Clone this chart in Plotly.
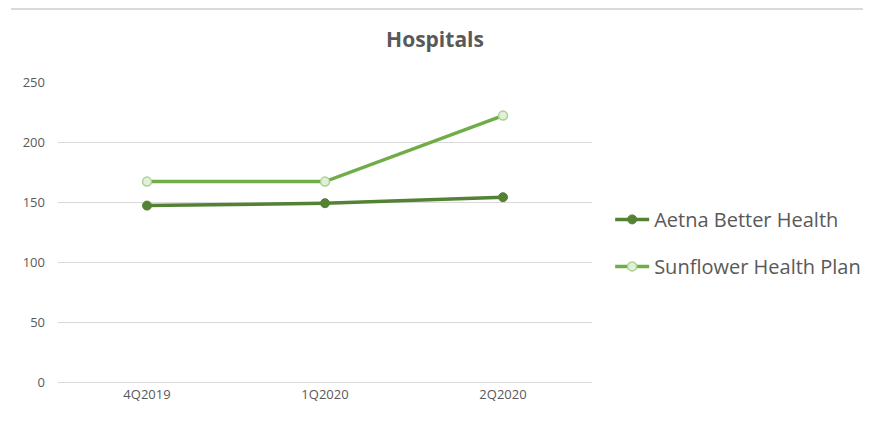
import plotly.graph_objects as go

quarters = ["4Q2019", "1Q2020", "2Q2020"]
aetna = [147, 149, 154]
sunflower = [167, 167, 222]
y_ticks = [0, 50, 100, 150, 200, 250]

FONT = "Open Sans"
TXT = "#595959"

W, H = 863, 417  # page body has an 8px margin

fig = go.Figure()
fig.add_trace(go.Scatter(
    x=quarters, y=aetna, name="Aetna Better Health", mode="lines+markers",
    legendgroup="a",
    line=dict(color="#548235", width=3.5),
    marker=dict(size=9, color="#548235", line=dict(color="#548235", width=1)),
))
fig.add_trace(go.Scatter(
    x=quarters, y=sunflower, name="Sunflower Health Plan", mode="lines+markers",
    legendgroup="s",
    line=dict(color="#70AD47", width=3.5),
    marker=dict(size=9, color="#E2EFDA", line=dict(color="#A9D18E", width=1.5)),
))

fig.update_layout(
    width=W, height=H,
    margin=dict(l=50, r=279, t=74, b=43, autoexpand=False),
    paper_bgcolor="white", plot_bgcolor="white",
    title=dict(text="<b>Hospitals</b>", x=(435 - 8) / W, xref="container", xanchor="center",
               y=1 - 32 / H, yref="container", yanchor="middle",
               font=dict(family=FONT, size=21, color=TXT)),
    xaxis=dict(type="category", range=[-0.5, 2.5], showgrid=False,
               showline=True, linecolor="#d9d9d9", linewidth=1, ticks="",
               tickfont=dict(family=FONT, size=13, color=TXT), zeroline=False),
    yaxis=dict(range=[0, 250], tickvals=y_ticks, showgrid=True, gridcolor="#d9d9d9",
               gridwidth=1, zeroline=True, zerolinecolor="#d9d9d9", zerolinewidth=1,
               showline=False, ticks="", ticklabelstandoff=12,
               tickfont=dict(family=FONT, size=13, color=TXT)),
    legend=dict(x=1.034, y=0.607, xanchor="left", yanchor="top",
                font=dict(family=FONT, size=20, color=TXT),
                itemwidth=34, tracegroupgap=18, bgcolor="rgba(0,0,0,0)"),
    shapes=[dict(type="line", xref="paper", yref="paper",
                 x0=(3 - 50) / 534, x1=(863 - 50) / 534,
                 y0=1 + 73 / 300, y1=1 + 73 / 300,
                 line=dict(color="#d9d9d9", width=2))],
)

fig.write_html("out.html")
